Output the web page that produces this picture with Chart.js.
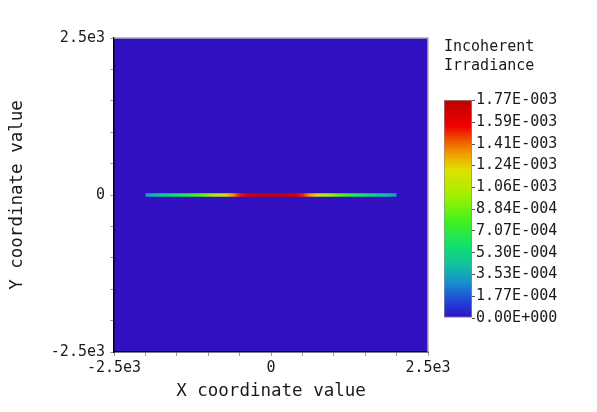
<!DOCTYPE html>
<html>
<head>
<meta charset="utf-8">
<script src="https://cdn.jsdelivr.net/npm/chart.js@4"></script>
<style>
  body { margin: 0; background: #fff; }
  #wrap { position: relative; width: 597px; height: 412px; }
  #main { position: absolute; left: 0; top: 0; }
  #bar { position: absolute; left: 430px; top: 30px; }
</style>
</head>
<body>
<div id="wrap">
  <canvas id="main" width="597" height="412"></canvas>
  <canvas id="bar" width="167" height="300"></canvas>
</div>
<script>
// positions along the x axis where the irradiance was read (y = 0)
const xPositions = [-2000, -1900, -1800, -1700, -1600, -1500, -1400, -1300, -1200, -1100, -1000,
  -900, -800, -700, -600, -500, -400, -300, -200, -100, 0,
  100, 200, 300, 400, 500, 600, 700, 800, 900, 1000,
  1100, 1200, 1300, 1400, 1500, 1600, 1700, 1800, 1900, 2000];
const irradiance = [3.0e-4, 3.8e-4, 4.3e-4, 4.8e-4, 5.3e-4, 5.9e-4, 6.5e-4, 7.1e-4, 7.7e-4, 8.4e-4, 9.2e-4,
  1.02e-3, 1.12e-3, 1.24e-3, 1.35e-3, 1.52e-3, 1.64e-3, 1.70e-3, 1.74e-3, 1.76e-3, 1.77e-3,
  1.76e-3, 1.74e-3, 1.70e-3, 1.64e-3, 1.52e-3, 1.35e-3, 1.24e-3, 1.12e-3, 1.02e-3, 9.2e-4,
  8.4e-4, 7.7e-4, 7.1e-4, 6.5e-4, 5.9e-4, 5.3e-4, 4.8e-4, 4.3e-4, 3.8e-4, 3.0e-4];

const axisTicks = [-2500, -2000, -1500, -1000, -500, 0, 500, 1000, 1500, 2000, 2500];
const axisLabelValues = [-2500, 0, 2500];
const axisLabels = ['-2.5e3', '0', '2.5e3'];

const maxIrradiance = 1.77e-3;
const barTickValues = [0, 1.77e-4, 3.53e-4, 5.30e-4, 7.07e-4, 8.84e-4, 1.06e-3, 1.24e-3, 1.41e-3, 1.59e-3, 1.77e-3];
const barTickLabels = ['0.00E+000', '1.77E-004', '3.53E-004', '5.30E-004', '7.07E-004', '8.84E-004',
  '1.06E-003', '1.24E-003', '1.41E-003', '1.59E-003', '1.77E-003'];

// colour map stops, fraction of max -> colour
const cmap = [
  [0.00, [48, 16, 192]],
  [0.07, [32, 64, 216]],
  [0.16, [26, 140, 208]],
  [0.24, [16, 192, 160]],
  [0.33, [16, 224, 112]],
  [0.44, [64, 240, 32]],
  [0.56, [160, 240, 0]],
  [0.68, [224, 224, 0]],
  [0.75, [240, 160, 0]],
  [0.82, [240, 80, 0]],
  [0.88, [240, 0, 0]],
  [1.00, [192, 0, 0]]
];

function colourAt(f) {
  f = Math.max(0, Math.min(1, f));
  for (let i = 1; i < cmap.length; i++) {
    if (f <= cmap[i][0]) {
      const [f0, c0] = cmap[i - 1];
      const [f1, c1] = cmap[i];
      const t = (f - f0) / (f1 - f0);
      const c = c0.map((v, k) => Math.round(v + (c1[k] - v) * t));
      return `rgb(${c[0]},${c[1]},${c[2]})`;
    }
  }
  return 'rgb(192,0,0)';
}

const mono = 'DejaVu Sans Mono';
const textColour = '#1a1a1a';

const plotBackground = {
  id: 'plotBackground',
  beforeDraw(chart) {
    const { ctx, chartArea: a } = chart;
    ctx.save();
    ctx.fillStyle = colourAt(0);
    ctx.fillRect(a.left, a.top, a.right - a.left, a.bottom - a.top);
    ctx.restore();
  },
  afterDraw(chart) {
    const { ctx, chartArea: a } = chart;
    ctx.save();
    ctx.strokeStyle = '#b0b0b0';
    ctx.lineWidth = 1.5;
    ctx.beginPath();
    ctx.moveTo(a.left, a.top);
    ctx.lineTo(a.right, a.top);
    ctx.lineTo(a.right, a.bottom);
    ctx.stroke();
    ctx.restore();
  }
};

function axisOptions(titleText, isX) {
  return {
    type: 'linear',
    min: -2500,
    max: 2500,
    afterBuildTicks: s => { s.ticks = axisTicks.map(v => ({ value: v })); },
    afterFit: s => {
      if (isX) s.height = 60; else s.width = 114;
    },
    grid: { drawOnChartArea: false, color: '#a0a0a0', tickLength: 4 },
    border: { color: '#000', width: 1.5 },
    ticks: {
      padding: isX ? 3 : 5,
      maxRotation: 0,
      autoSkip: false,
      color: textColour,
      font: { family: mono, size: 15 },
      callback: v => {
        const i = axisLabelValues.indexOf(v);
        return i < 0 ? '' : axisLabels[i];
      }
    },
    title: {
      display: true,
      text: titleText,
      color: textColour,
      font: { family: mono, size: 17.5 },
      padding: isX ? { top: 0, bottom: 10 } : { top: 7, bottom: 0 }
    }
  };
}

// horizontal gradient along the line, one stop per reading
function lineGradient(c) {
  const chart = c.chart;
  const xs = chart.scales.x;
  if (!chart.chartArea || !xs) return colourAt(0);
  const p0 = xs.getPixelForValue(xPositions[0]);
  const p1 = xs.getPixelForValue(xPositions[xPositions.length - 1]);
  const g = chart.ctx.createLinearGradient(p0, 0, p1, 0);
  xPositions.forEach((x, i) => {
    g.addColorStop((xs.getPixelForValue(x) - p0) / (p1 - p0), colourAt(irradiance[i] / maxIrradiance));
  });
  return g;
}

new Chart(document.getElementById('main'), {
  type: 'line',
  data: {
    datasets: [{
      data: xPositions.map(x => ({ x, y: 0 })),
      borderWidth: 3.5,
      borderCapStyle: 'butt',
      borderColor: lineGradient,
      pointRadius: 0,
      fill: false
    }]
  },
  options: {
    responsive: false,
    animation: false,
    layout: { padding: { left: 0, top: 38, right: 169, bottom: 0 } },
    plugins: { legend: { display: false }, tooltip: { enabled: false } },
    scales: {
      x: axisOptions('X coordinate value', true),
      y: axisOptions('Y coordinate value', false)
    }
  },
  plugins: [plotBackground]
});

new Chart(document.getElementById('bar'), {
  type: 'bar',
  data: {
    labels: ['irradiance'],
    datasets: [{
      data: [[0, maxIrradiance]],
      barPercentage: 1,
      categoryPercentage: 1,
      borderWidth: 1,
      borderSkipped: false,
      borderColor: '#8c8c8c',
      backgroundColor: c => {
        const a = c.chart.chartArea;
        if (!a) return colourAt(0);
        const g = c.chart.ctx.createLinearGradient(0, a.bottom, 0, a.top);
        cmap.forEach(([f]) => g.addColorStop(f, colourAt(f)));
        return g;
      }
    }]
  },
  options: {
    responsive: false,
    animation: false,
    layout: { padding: { left: 14, top: 0, right: 0, bottom: 12 } },
    plugins: {
      legend: { display: false },
      tooltip: { enabled: false },
      title: {
        display: true,
        text: ['Incoherent', 'Irradiance'],
        align: 'start',
        color: textColour,
        font: { family: mono, size: 15, weight: 'normal', lineHeight: 1.3 },
        padding: { top: 7, bottom: 24 }
      }
    },
    scales: {
      x: { display: false },
      y: {
        position: 'right',
        min: 0,
        max: maxIrradiance,
        afterBuildTicks: s => { s.ticks = barTickValues.map(v => ({ value: v })); },
        afterFit: s => { s.width = 125; },
        grid: { drawOnChartArea: false, color: '#555', tickLength: 3 },
        border: { display: false },
        ticks: {
          padding: 1,
          autoSkip: false,
          color: textColour,
          font: { family: mono, size: 15 },
          callback: (v, i) => barTickLabels[i]
        }
      }
    }
  }
});
</script>
</body>
</html>
